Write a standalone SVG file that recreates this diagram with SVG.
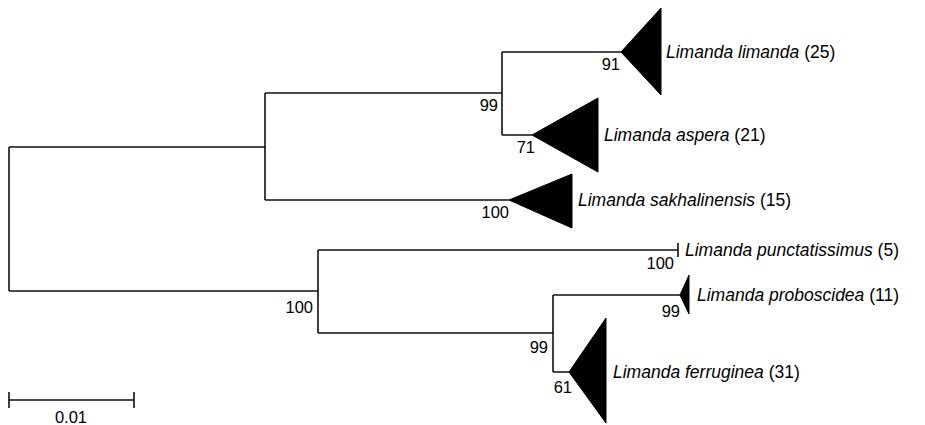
<svg xmlns="http://www.w3.org/2000/svg" width="925" height="425" viewBox="0 0 925 425">
<style>
.br{fill:none;stroke:#111;stroke-width:1.6}
.tri{fill:#000;stroke:#000;stroke-width:1}
.lab{font-family:"Liberation Sans",Arial,sans-serif;font-size:17.5px;fill:#000}
.lab tspan.sp{font-style:italic}
.bs{font-family:"Liberation Sans",Arial,sans-serif;font-size:16.5px;fill:#000;text-anchor:end}
.sc{font-family:"Liberation Sans",Arial,sans-serif;font-size:16.5px;fill:#000;text-anchor:middle}
</style>
<rect width="925" height="425" fill="#fff"/>
<g id="connectors">
<path class="br" d="M9,147 V291 M9,147 H265 M9,291 H318"/>
<path class="br" d="M265,93 V200 M265,93 H502 M265,200 H509"/>
<path class="br" d="M502,52 V135 M502,52 H621 M502,135 H532"/>
<path class="br" d="M318,250 V333 M318,250 H678 M318,333 H553"/>
<path class="br" d="M553,295 V372 M553,295 H680 M553,372 H569"/>
</g>
<g id="node-upper"><text class="bs" x="498" y="111">99</text></g>
<g id="node-lower"><text class="bs" x="313" y="313">100</text></g>
<g id="node-prob-ferr"><text class="bs" x="548" y="353">99</text></g>
<g id="limanda-limanda">
<polygon class="tri" points="621,52 661,8 661,95"/>
<text class="bs" x="620" y="70">91</text>
<text class="lab" x="666" y="58"><tspan class="sp">Limanda limanda</tspan> (25)</text>
</g>
<g id="limanda-aspera">
<polygon class="tri" points="532,135 598,98 598,172"/>
<text class="bs" x="535" y="153">71</text>
<text class="lab" x="604" y="141"><tspan class="sp">Limanda aspera</tspan> (21)</text>
</g>
<g id="limanda-sakhalinensis">
<polygon class="tri" points="509,200 572,174 572,228"/>
<text class="bs" x="509" y="218">100</text>
<text class="lab" x="578" y="206"><tspan class="sp">Limanda sakhalinensis</tspan> (15)</text>
</g>
<g id="limanda-punctatissimus">
<path class="br" d="M678,243 V257"/>
<text class="bs" x="674" y="269">100</text>
<text class="lab" x="685" y="256"><tspan class="sp">Limanda punctatissimus</tspan> (5)</text>
</g>
<g id="limanda-proboscidea">
<polygon class="tri" points="680,295 689,275 689,314"/>
<text class="bs" x="680" y="317">99</text>
<text class="lab" x="697" y="301"><tspan class="sp">Limanda proboscidea</tspan> (11)</text>
</g>
<g id="limanda-ferruginea">
<polygon class="tri" points="569,372 606,318 606,423"/>
<text class="bs" x="572" y="393">61</text>
<text class="lab" x="613" y="378"><tspan class="sp">Limanda ferruginea</tspan> (31)</text>
</g>
<g id="scale-bar">
<path class="br" d="M9,400 H134 M9,392 V408 M134,392 V408"/>
<text class="sc" x="71" y="423">0.01</text>
</g>
</svg>
